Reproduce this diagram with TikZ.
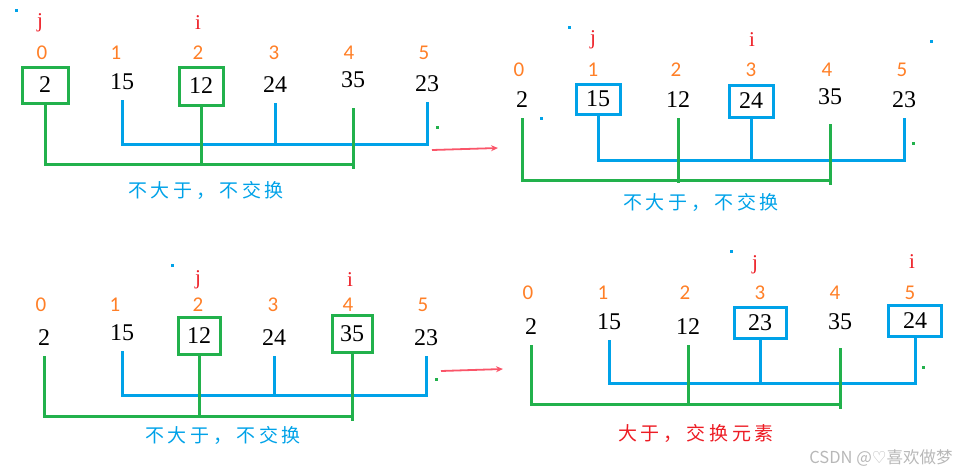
\documentclass[tikz,border=0pt]{standalone}
\usepackage{fontspec}
\usepackage{tikz}
\usetikzlibrary{arrows.meta}
\setmainfont{Liberation Serif}
\newfontfamily\idxfont{Carlito}
\newfontfamily\cjk[LetterSpace=20]{Noto Sans CJK SC}
\newfontfamily\wmfont{Noto Sans CJK SC}
\newfontfamily\symfont{DejaVu Sans}
\definecolor{grn}{RGB}{34,177,76}
\definecolor{blu}{RGB}{0,162,232}
\definecolor{org}{RGB}{255,127,39}
\definecolor{ptrred}{RGB}{237,28,36}
\definecolor{arr}{RGB}{250,85,105}

\tikzset{
  val/.style={inner sep=0pt, minimum width=44pt, minimum height=36pt,
    font=\fontsize{24}{28}\selectfont},
  grnbox/.style={val, draw=grn, line width=3pt},
  blubox/.style={val, draw=blu, line width=3pt},
  idx/.style={text=org, font=\idxfont\fontsize{21}{24}\selectfont},
  ptr/.style={text=ptrred, font=\fontsize{21}{24}\selectfont},
  grnline/.style={draw=grn, line width=3pt},
  bluline/.style={draw=blu, line width=3pt},
  note/.style={font=\cjk\fontsize{19}{22}\selectfont},
  speck/.style={inner sep=0pt, minimum size=3pt},
  mv/.style={draw=arr, line width=1.8pt, -{Stealth[length=7pt,width=6pt]}},
}

\begin{document}
\begin{tikzpicture}[x=1pt,y=-1pt]
  \useasboundingbox (0,0) rectangle (967,475);

  % panel a
  \node[ptr] (ja) at (40,23) {j};
  \node[ptr] (ia) at (198,23) {i};
  \node[idx] (na0) at (42,53) {0};
  \node[idx] (na1) at (116,53) {1};
  \node[idx] (na2) at (198,53) {2};
  \node[idx] (na3) at (274,53) {3};
  \node[idx] (na4) at (349,53) {4};
  \node[idx] (na5) at (424,53) {5};
  \node[grnbox, minimum width=46pt] (a0) at (45,85) {2};
  \node[val] (a1) at (122,82) {15};
  \node[grnbox, minimum height=38pt] (a2) at (201,86) {12};
  \node[val] (a3) at (275,85) {24};
  \node[val, minimum height=56pt] (a4) at (353,80) {35};
  \node[val] (a5) at (427,84) {23};
  \coordinate (ga) at (0,164);
  \coordinate (ba) at (0,144);
  \draw[bluline] (a1) -- (a1 |- ba) -- (a5 |- ba) -- (a5);
  \draw[bluline] (a3) -- (a3 |- ba);
  \draw[grnline] (a0) -- (a0 |- ga) -- (a4 |- ga);
  \draw[grnline, shorten >=-2pt] (a2) -- (a2 |- ga);
  \draw[grnline, shorten >=-5pt] (a4) -- (a4 |- ga);
  \node[note, text=blu] (ta) at (206,190) {不大于，不交换};

  % panel b
  \node[ptr] (jb) at (593,40) {j};
  \node[ptr] (ib) at (752,40) {i};
  \node[idx] (nb0) at (519,70) {0};
  \node[idx] (nb1) at (593,70) {1};
  \node[idx] (nb2) at (676,70) {2};
  \node[idx] (nb3) at (751,70) {3};
  \node[idx] (nb4) at (827,70) {4};
  \node[idx] (nb5) at (902,70) {5};
  \node[val] (b0) at (522,100) {2};
  \node[blubox, minimum height=30pt] (b1) at (598,99) {15};
  \node[val] (b2) at (678,100) {12};
  \node[blubox, minimum height=32pt] (b3) at (751,101) {24};
  \node[val, minimum height=54pt] (b4) at (830,97) {35};
  \node[val] (b5) at (904,100) {23};
  \coordinate (gb) at (0,180);
  \coordinate (bb) at (0,160);
  \draw[bluline] (b1) -- (b1 |- bb) -- (b5 |- bb) -- (b5);
  \draw[bluline] (b3) -- (b3 |- bb);
  \draw[grnline] (b0) -- (b0 |- gb) -- (b4 |- gb);
  \draw[grnline, shorten >=-3pt] (b2) -- (b2 |- gb);
  \draw[grnline, shorten >=-5pt] (b4) -- (b4 |- gb);
  \node[note, text=blu] (tb) at (701,202) {不大于，不交换};

  % panel c
  \node[ptr] (jc) at (198,280) {j};
  \node[ptr] (ic) at (350,280) {i};
  \node[idx] (nc0) at (41,305) {0};
  \node[idx] (nc1) at (115,305) {1};
  \node[idx] (nc2) at (198,305) {2};
  \node[idx] (nc3) at (273,305) {3};
  \node[idx] (nc4) at (348,305) {4};
  \node[idx] (nc5) at (423,305) {5};
  \node[val] (c0) at (44,338) {2};
  \node[val] (c1) at (122,333) {15};
  \node[grnbox, minimum width=42pt, minimum height=37pt] (c2) at (199,336) {12};
  \node[val] (c3) at (274,338) {24};
  \node[grnbox, minimum width=40pt, minimum height=37pt] (c4) at (352,334) {35};
  \node[val] (c5) at (426,338) {23};
  \coordinate (gc) at (0,416);
  \coordinate (bc) at (0,395);
  \draw[bluline] (c1) -- (c1 |- bc) -- (c5 |- bc) -- (c5);
  \draw[bluline] (c3) -- (c3 |- bc);
  \draw[grnline] (c0) -- (c0 |- gc) -- (c4 |- gc);
  \draw[grnline, shorten >=-2pt] (c2) -- (c2 |- gc);
  \draw[grnline, shorten >=-5pt] (c4) -- (c4 |- gc);
  \node[note, text=blu] (tc) at (223,435) {不大于，不交换};

  % panel d
  \node[ptr] (jd) at (755,265) {j};
  \node[ptr] (id) at (912,262) {i};
  \node[idx] (nd0) at (528,293) {0};
  \node[idx] (nd1) at (603,293) {1};
  \node[idx] (nd2) at (685,293) {2};
  \node[idx] (nd3) at (760,293) {3};
  \node[idx] (nd4) at (835,293) {4};
  \node[idx] (nd5) at (910,293) {5};
  \node[val] (d0) at (531,327) {2};
  \node[val] (d1) at (609,322) {15};
  \node[val] (d2) at (688,327) {12};
  \node[blubox, minimum width=52pt, minimum height=31pt] (d3) at (760,323) {23};
  \node[val, minimum height=52pt] (d4) at (840,322) {35};
  \node[blubox, minimum width=53pt, minimum height=31pt] (d5) at (915,321) {24};
  \coordinate (gd) at (0,404);
  \coordinate (bd) at (0,383);
  \draw[bluline] (d1) -- (d1 |- bd) -- (d5 |- bd) -- (d5);
  \draw[bluline] (d3) -- (d3 |- bd);
  \draw[grnline] (d0) -- (d0 |- gd) -- (d4 |- gd);
  \draw[grnline, shorten >=-2pt] (d2) -- (d2 |- gd);
  \draw[grnline, shorten >=-5pt] (d4) -- (d4 |- gd);
  \node[note, text=ptrred] (td) at (696,433) {大于，交换元素};

  % arrows between panels
  \coordinate (s1) at (432,150);
  \coordinate (e1) at (498,148);
  \coordinate (s2) at (441,371);
  \coordinate (e2) at (503,369);
  \draw[mv] (s1) -- (e1);
  \draw[mv] (s2) -- (e2);

  % stray specks
  \node[speck, fill=blu] (sp1) at (16,10) {};
  \node[speck, fill=blu] (sp2) at (569,27) {};
  \node[speck, fill=blu] (sp3) at (931,41) {};
  \node[speck, fill=blu] (sp4) at (541,118) {};
  \node[speck, fill=blu] (sp5) at (172,265) {};
  \node[speck, fill=blu] (sp6) at (731,251) {};
  \node[speck, fill=grn] (sp7) at (437,127) {};
  \node[speck, fill=grn] (sp8) at (913,143) {};
  \node[speck, fill=grn] (sp9) at (436,379) {};
  \node[speck, fill=grn] (sp10) at (923,367) {};

  \node[text=black!28, font=\wmfont\fontsize{16.5}{19}\selectfont] (wm) at (881,458)
    {CSDN @{\symfont ♡}喜欢做梦};
\end{tikzpicture}
\end{document}
